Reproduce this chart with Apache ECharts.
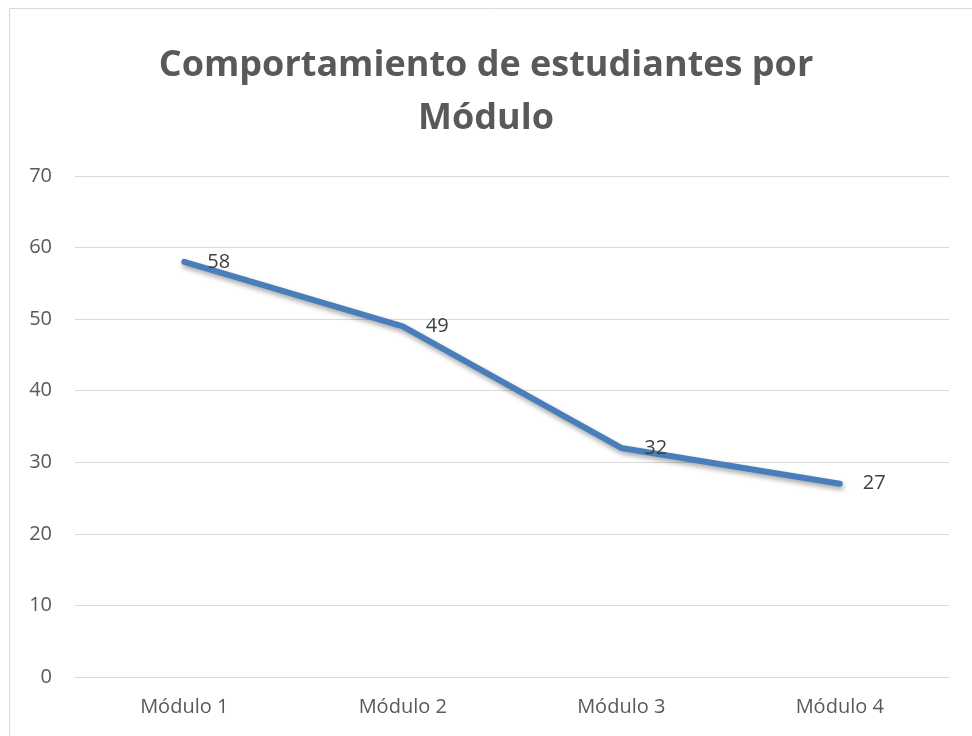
<!DOCTYPE html>
<html>
<head>
<meta charset="utf-8">
<script src="https://cdn.jsdelivr.net/npm/echarts@6/dist/echarts.min.js"></script>
<style>
html, body { margin: 0; padding: 0; background: #fff; }
#chart { width: 972px; height: 736px; }
</style>
</head>
<body>
<div id="chart"></div>
<script>
// datos del grafico
var modulos = ['Módulo 1', 'Módulo 2', 'Módulo 3', 'Módulo 4'];
var estudiantes = [58, 49, 32, 27];
var titulo = 'Comportamiento de estudiantes por\nMódulo';

var chart = echarts.init(document.getElementById('chart'));
var option = {
	backgroundColor: '#fff',
	animation: false,
	title: {
		text: titulo,
		left: 'center',
		top: 34,
		textStyle: {
			fontFamily: 'Open Sans',
			fontSize: 36,
			fontWeight: 'bold',
			color: '#595959',
			lineHeight: 53
		}
	},
	graphic: [{
		type: 'rect',
		shape: { x: 9.5, y: 8.5, width: 1200, height: 1200 },
		style: { fill: 'none', stroke: '#d9d9d9', lineWidth: 1 },
		silent: true
	}],
	grid: {
		left: 75,
		right: 23,
		top: 176,
		bottom: 59,
		containLabel: false
	},
	xAxis: {
		type: 'category',
		data: modulos,
		axisLine: { show: true, lineStyle: { color: '#d9d9d9', width: 1 } },
		axisTick: { show: false },
		axisLabel: {
			fontFamily: 'Open Sans',
			fontSize: 20,
			color: '#595959',
			margin: 20
		}
	},
	yAxis: {
		type: 'value',
		min: 0,
		max: 70,
		interval: 10,
		axisLine: { show: false },
		axisTick: { show: false },
		splitLine: { lineStyle: { color: '#d9d9d9', width: 1 } },
		axisLabel: {
			fontFamily: 'Open Sans',
			fontSize: 20,
			color: '#595959',
			margin: 23
		}
	},
	series: [{
		type: 'line',
		data: estudiantes,
		symbol: 'circle',
		symbolSize: 2,
		itemStyle: { color: '#4a7ebb' },
		lineStyle: {
			color: '#4a7ebb',
			width: 6,
			cap: 'round',
			join: 'round',
			shadowColor: 'rgba(0,0,0,0.35)',
			shadowBlur: 5,
			shadowOffsetX: 1,
			shadowOffsetY: 3
		},
		label: {
			show: true,
			position: 'right',
			distance: 22,
			fontFamily: 'Open Sans',
			fontSize: 20,
			color: '#404040'
		}
	}]
};
chart.setOption(option);
window.addEventListener('resize', chart.resize);
</script>
</body>
</html>
